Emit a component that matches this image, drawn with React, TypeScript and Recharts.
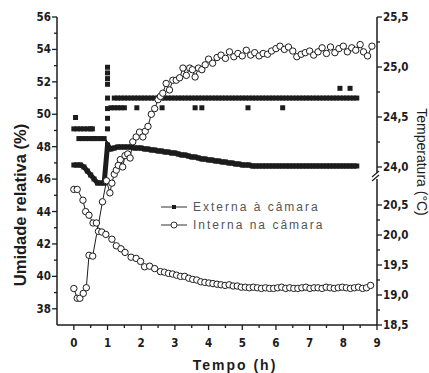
import React from 'react';
import { ComposedChart, Scatter, XAxis, YAxis } from 'recharts';

const FONT = "'Liberation Sans Narrow', 'Arial Narrow', 'DejaVu Sans Condensed', 'Liberation Sans', Arial, sans-serif";
const INK = '#1c1c1c';

// outside sensor, sampled on a common time grid (h)
const extTime = [
  0, 0.1, 0.2, 0.3, 0.4, 0.5, 0.6, 0.7, 0.8, 0.9,
  1.0, 1.1, 1.2, 1.3, 1.4, 1.5, 1.6, 1.7, 1.8, 1.9,
  2.0, 2.1, 2.2, 2.3, 2.4, 2.5, 2.6, 2.7, 2.8, 2.9,
  3.0, 3.1, 3.2, 3.3, 3.4, 3.5, 3.6, 3.7, 3.8, 3.9,
  4.0, 4.1, 4.2, 4.3, 4.4, 4.5, 4.6, 4.7, 4.8, 4.9,
  5.0, 5.1, 5.2, 5.3, 5.4, 5.5, 5.6, 5.7, 5.8, 5.9,
  6.0, 6.1, 6.2, 6.3, 6.4, 6.5, 6.6, 6.7, 6.8, 6.9,
  7.0, 7.1, 7.2, 7.3, 7.4, 7.5, 7.6, 7.7, 7.8, 7.9,
  8.0, 8.1, 8.2, 8.3, 8.4,
];

// relative humidity outside (%)
const extHumidity = [
  49.1, 49.1, 49.1, 49.1, 49.1, 49.1, 48.5, 48.5, 48.5, 48.5,
  51.0, 50.4, 51.0, 51.0, 51.0, 51.0, 51.0, 51.0, 51.0, 51.0,
  51.0, 51.0, 51.0, 51.0, 51.0, 51.0, 51.0, 51.0, 51.0, 51.0,
  51.0, 51.0, 51.0, 51.0, 51.0, 51.0, 51.0, 51.0, 51.0, 51.0,
  51.0, 51.0, 51.0, 51.0, 51.0, 51.0, 51.0, 51.0, 51.0, 51.0,
  51.0, 51.0, 51.0, 51.0, 51.0, 51.0, 51.0, 51.0, 51.0, 51.0,
  51.0, 51.0, 51.0, 51.0, 51.0, 51.0, 51.0, 51.0, 51.0, 51.0,
  51.0, 51.0, 51.0, 51.0, 51.0, 51.0, 51.0, 51.0, 51.0, 51.0,
  51.0, 51.0, 51.0, 51.0, 51.0,
];

// extra outside humidity readings off the grid [h, %]
const extHumidityExtra: [number, number][] = [
  [0.05, 49.8], [0.15, 48.5], [0.25, 48.5], [0.35, 48.5], [0.45, 48.5], [0.55, 48.5], [0.55, 49.1],
  [1.0, 49.1], [1.0, 49.75], [1.0, 50.35], [1.0, 51.85], [1.0, 52.2], [1.0, 52.55], [1.0, 52.9],
  [1.2, 50.4], [1.3, 50.4], [1.4, 50.4], [1.5, 50.4], [1.87, 50.4], [2.62, 50.4],
  [3.6, 50.4], [3.8, 50.4], [5.17, 50.4], [6.2, 50.4], [7.9, 51.6], [8.2, 51.6],
];

// temperature outside (°C)
const extTemperature = [
  24.02, 24.02, 24.02, 24.0, 23.96, 23.92, 23.88, 23.84, 23.84, 23.84,
  24.22, 24.18, 24.19, 24.2, 24.2, 24.2, 24.2, 24.2, 24.19, 24.19,
  24.19, 24.18, 24.18, 24.17, 24.17, 24.16, 24.16, 24.15, 24.15, 24.14,
  24.14, 24.13, 24.12, 24.12, 24.11, 24.1, 24.1, 24.09, 24.08, 24.08,
  24.07, 24.07, 24.06, 24.06, 24.05, 24.05, 24.04, 24.04, 24.03, 24.03,
  24.02, 24.02, 24.02, 24.01, 24.01, 24.01, 24.01, 24.01, 24.01, 24.01,
  24.01, 24.01, 24.01, 24.01, 24.01, 24.01, 24.01, 24.01, 24.01, 24.01,
  24.01, 24.01, 24.01, 24.01, 24.01, 24.01, 24.01, 24.01, 24.01, 24.01,
  24.01, 24.01, 24.01, 24.01, 24.01,
];

// inside the chamber [h, %]
const intHumidity: [number, number][] = [
  [0.0, 39.25], [0.1, 38.65], [0.18, 38.65], [0.28, 38.95], [0.37, 39.3], [0.45, 41.3], [0.56, 41.25],
  [0.85, 44.6], [0.97, 45.9], [1.07, 45.15], [1.13, 45.75], [1.2, 46.3], [1.26, 46.55], [1.32, 46.85],
  [1.38, 47.2], [1.45, 46.75], [1.52, 47.45], [1.6, 47.55], [1.67, 47.3], [1.75, 48.3], [1.85, 48.6],
  [1.95, 48.9], [2.05, 48.6], [2.12, 48.95], [2.2, 49.25], [2.3, 50.0], [2.4, 50.35], [2.5, 50.9],
  [2.57, 51.1], [2.64, 51.3], [2.74, 51.9], [2.84, 51.5], [2.94, 52.1], [3.04, 52.1], [3.14, 52.25],
  [3.24, 52.85], [3.34, 52.4], [3.44, 52.85], [3.52, 52.75], [3.6, 52.3], [3.7, 52.85], [3.8, 52.75],
  [3.9, 53.05], [4.0, 53.4], [4.12, 53.15], [4.25, 53.5], [4.37, 53.65], [4.5, 53.45], [4.62, 53.85],
  [4.75, 53.55], [4.87, 53.75], [5.0, 53.6], [5.12, 53.95], [5.25, 53.65], [5.37, 53.8], [5.5, 53.6],
  [5.62, 53.75], [5.75, 53.7], [5.87, 53.9], [6.0, 54.05], [6.12, 54.2], [6.25, 54.0], [6.37, 54.15],
  [6.5, 53.9], [6.62, 53.55], [6.75, 53.7], [6.87, 53.8], [7.0, 53.9], [7.12, 53.65], [7.25, 53.85],
  [7.37, 54.1], [7.5, 53.75], [7.62, 54.15], [7.75, 53.8], [7.87, 54.05], [8.0, 54.2], [8.12, 53.85],
  [8.25, 54.1], [8.37, 53.95], [8.5, 54.3], [8.6, 53.85], [8.72, 53.6], [8.85, 54.2],
];

// inside the chamber [h, °C]
const intTemperature: [number, number][] = [
  [0.0, 20.76], [0.1, 20.76], [0.27, 20.58], [0.35, 20.39], [0.45, 20.33], [0.57, 20.2], [0.67, 20.2],
  [0.73, 20.06], [0.83, 20.05], [0.95, 20.01], [1.13, 19.93], [1.26, 19.82], [1.4, 19.77], [1.52, 19.71],
  [1.7, 19.63], [1.85, 19.61], [1.98, 19.56], [2.1, 19.47], [2.25, 19.48], [2.4, 19.44], [2.57, 19.39],
  [2.69, 19.38], [2.81, 19.36], [2.93, 19.35], [3.05, 19.33], [3.17, 19.31], [3.29, 19.31], [3.41, 19.28],
  [3.53, 19.26], [3.65, 19.25], [3.77, 19.22], [3.89, 19.21], [4.01, 19.2], [4.13, 19.19], [4.25, 19.18],
  [4.37, 19.17], [4.49, 19.16], [4.61, 19.17], [4.73, 19.15], [4.85, 19.15], [4.97, 19.13], [5.09, 19.13],
  [5.21, 19.12], [5.33, 19.13], [5.45, 19.12], [5.57, 19.11], [5.69, 19.12], [5.81, 19.11], [5.93, 19.11],
  [6.05, 19.12], [6.17, 19.13], [6.29, 19.11], [6.41, 19.12], [6.53, 19.11], [6.65, 19.11], [6.77, 19.12],
  [6.89, 19.13], [7.01, 19.11], [7.13, 19.12], [7.25, 19.12], [7.37, 19.11], [7.49, 19.13], [7.61, 19.12],
  [7.73, 19.11], [7.85, 19.12], [7.97, 19.13], [8.09, 19.12], [8.21, 19.11], [8.33, 19.12], [8.45, 19.13],
  [8.57, 19.11], [8.69, 19.12], [8.81, 19.16],
];

const timeTicks = [0, 0.5, 1, 1.5, 2, 2.5, 3, 3.5, 4, 4.5, 5, 5.5, 6, 6.5, 7, 7.5, 8, 8.5, 9];
const humidityTicks = [38, 39, 40, 41, 42, 43, 44, 45, 46, 47, 48, 49, 50, 51, 52, 53, 54, 55, 56];
const tempTicksLow = [18.5, 18.75, 19, 19.25, 19.5, 19.75, 20, 20.25, 20.5];
const tempTicksHigh = [24, 24.25, 24.5, 24.75, 25, 25.25, 25.5];

const legendItems = [
  { name: 'Externa à câmara', marker: 'square' },
  { name: 'Interna na câmara', marker: 'circle' },
];

// the temperature axis is broken (18,5-20,5 below, 24,0-25,5 above); axis units = px of plot height
const PLOT_H = 308;
const tempToPos = (t: number) => (t < 22 ? (t - 18.5) * 60 : PLOT_H - (25.5 - t) * 100);
const posToTemp = (p: number) => (p < 140 ? 18.5 + p / 60 : 25.5 - (PLOT_H - p) / 100);

const extHumData = extTime.map((t, i) => ({ x: t, y: extHumidity[i] }));
const extHumExtraData = extHumidityExtra.map(([t, v]) => ({ x: t, y: v }));
const extTempData = extTime.map((t, i) => ({ x: t, y: tempToPos(extTemperature[i]) }));
const intHumData = intHumidity.map(([t, v]) => ({ x: t, y: v }));
const intTempData = intTemperature.map(([t, v]) => ({ x: t, y: tempToPos(v) }));

const isHalf = (v: number) => Math.abs(v * 2 - Math.round(v * 2)) < 1e-6;
const fmt = (v: number) => v.toFixed(1).replace('.', ',');

const labelStyle = { fontFamily: FONT, fontWeight: 700, fontSize: 11.5, fill: INK };

const Square = (props: any) => (
  <rect x={props.cx - 2.5} y={props.cy - 2.5} width={5} height={5} fill={INK} />
);
const Circle = (props: any) => (
  <circle cx={props.cx} cy={props.cy} r={3.2} fill="#fff" stroke={INK} strokeWidth={1} />
);

const BottomTick = ({ x, y, payload }: any) => {
  const v = payload.value;
  const major = Number.isInteger(v);
  return (
    <g>
      <line x1={x} x2={x} y1={y} y2={y + (major ? 5 : 3)} stroke={INK} strokeWidth={1.3} />
      {major && (
        <text x={x} y={y + 22} textAnchor="middle" {...labelStyle}>{v}</text>
      )}
    </g>
  );
};

const TopTick = ({ x, y, payload }: any) => {
  const major = Number.isInteger(payload.value);
  return <line x1={x} x2={x} y1={y} y2={y + (major ? 5 : 3)} stroke={INK} strokeWidth={1.3} />;
};

const LeftTick = ({ x, y, payload }: any) => {
  const v = payload.value;
  const major = v % 2 === 0;
  return (
    <g>
      <line x1={x} x2={x - (major ? 5 : 3)} y1={y} y2={y} stroke={INK} strokeWidth={1.3} />
      {major && (
        <text x={x - 6} y={y + 4} textAnchor="end" {...labelStyle}>{v}</text>
      )}
    </g>
  );
};

const RightTick = ({ x, y, payload }: any) => {
  const t = posToTemp(payload.value);
  const major = isHalf(t);
  return (
    <g>
      <line x1={x} x2={x + (major ? 5 : 3)} y1={y} y2={y} stroke={INK} strokeWidth={1.3} />
      {major && (
        <text x={x + 6} y={y + 4} textAnchor="start" {...labelStyle}>{fmt(t)}</text>
      )}
      {Math.abs(t - 24) < 1e-6 && (
        <g stroke={INK} strokeWidth={1.2}>
          <rect x={x - 3} y={y + 6} width={6} height={6} fill="#fff" stroke="none" />
          <line x1={x - 5} y1={y + 10} x2={x + 2} y2={y + 4} />
          <line x1={x - 5} y1={y + 14} x2={x + 2} y2={y + 8} />
        </g>
      )}
    </g>
  );
};

// legend drawn as an overlay so it takes no room from the plot
const LegendBox = () => (
  <div
    style={{
      position: 'absolute', left: 159, top: 198,
      fontFamily: "'Liberation Sans', Arial, sans-serif", fontSize: 12, color: '#555', letterSpacing: 2,
    }}
  >
    {legendItems.map((item) => (
      <div key={item.name} style={{ display: 'flex', alignItems: 'center', height: 18, whiteSpace: 'nowrap' }}>
        <svg width={32} height={12} style={{ marginRight: 2 }}>
          <line x1={2} x2={28} y1={6} y2={6} stroke="#333" strokeWidth={1} />
          {item.marker === 'square' ? (
            <rect x={13} y={4} width={4} height={4} fill={INK} />
          ) : (
            <circle cx={15} cy={6} r={3} fill="#fff" stroke="#333" strokeWidth={1} />
          )}
        </svg>
        <span>{item.name}</span>
      </div>
    ))}
  </div>
);

export default function App() {
  return (
    <div style={{ position: 'absolute', left: 0, top: 0, width: 429, height: 373, background: '#fff' }}>
      <ComposedChart width={429} height={373} margin={{ top: 17, right: 0, bottom: 0, left: 0 }}>
        <XAxis
          xAxisId="x"
          dataKey="x"
          type="number"
          domain={[-0.5, 9]}
          allowDataOverflow
          ticks={timeTicks}
          interval={0}
          height={48}
          tickSize={0}
          tickMargin={0}
          tickLine={false}
          tick={<BottomTick />}
          axisLine={{ stroke: INK, strokeWidth: 1.5 }}
          label={() => (
            <text x={235} y={370} textAnchor="middle" fontFamily="'Liberation Sans', Arial, sans-serif"
              fontWeight={700} fontSize={14} letterSpacing={2} fill={INK}>Tempo (h)</text>
          )}
        />
        <XAxis
          xAxisId="top"
          orientation="top"
          type="number"
          domain={[-0.5, 9]}
          allowDataOverflow
          ticks={timeTicks}
          interval={0}
          height={0}
          tickSize={0}
          tickMargin={0}
          tickLine={false}
          tick={<TopTick />}
          axisLine={{ stroke: INK, strokeWidth: 1.5 }}
        />
        <YAxis
          yAxisId="rh"
          dataKey="y"
          type="number"
          domain={[37, 56]}
          allowDataOverflow
          ticks={humidityTicks}
          interval={0}
          width={57}
          tickSize={0}
          tickMargin={0}
          tickLine={false}
          tick={<LeftTick />}
          axisLine={{ stroke: INK, strokeWidth: 1.5 }}
          label={() => (
            <text transform="translate(26,205) rotate(-90)" textAnchor="middle"
              fontFamily="'Liberation Sans', Arial, sans-serif" fontWeight={700} fontSize={16.5} fill={INK}>
              Umidade relativa (%)
            </text>
          )}
        />
        <YAxis
          yAxisId="temp"
          orientation="right"
          dataKey="y"
          type="number"
          domain={[0, PLOT_H]}
          allowDataOverflow
          ticks={[...tempTicksLow, ...tempTicksHigh].map(tempToPos)}
          interval={0}
          width={52}
          tickSize={0}
          tickMargin={0}
          tickLine={false}
          tick={<RightTick />}
          axisLine={{ stroke: INK, strokeWidth: 1.5 }}
          label={() => (
            <text transform="translate(417,162) rotate(90)" textAnchor="middle"
              fontFamily="'Liberation Sans', Arial, sans-serif" fontSize={14} fill={INK}>
              Temperatura (°C)
            </text>
          )}
        />
        <Scatter name="Externa UR" xAxisId="x" yAxisId="rh" data={extHumData}
          shape={Square} isAnimationActive={false} />
        <Scatter name="Externa UR extra" xAxisId="x" yAxisId="rh" data={extHumExtraData}
          shape={Square} isAnimationActive={false} />
        <Scatter name="Externa T" xAxisId="x" yAxisId="temp" data={extTempData}
          shape={Square} line={{ stroke: INK, strokeWidth: 5 }} lineType="joint" isAnimationActive={false} />
        <Scatter name="Interna UR" xAxisId="x" yAxisId="rh" data={intHumData}
          shape={Circle} line={{ stroke: INK, strokeWidth: 1 }} lineType="joint" isAnimationActive={false} />
        <Scatter name="Interna T" xAxisId="x" yAxisId="temp" data={intTempData}
          shape={Circle} line={{ stroke: INK, strokeWidth: 1 }} lineType="joint" isAnimationActive={false} />
      </ComposedChart>
      <LegendBox />
    </div>
  );
}
